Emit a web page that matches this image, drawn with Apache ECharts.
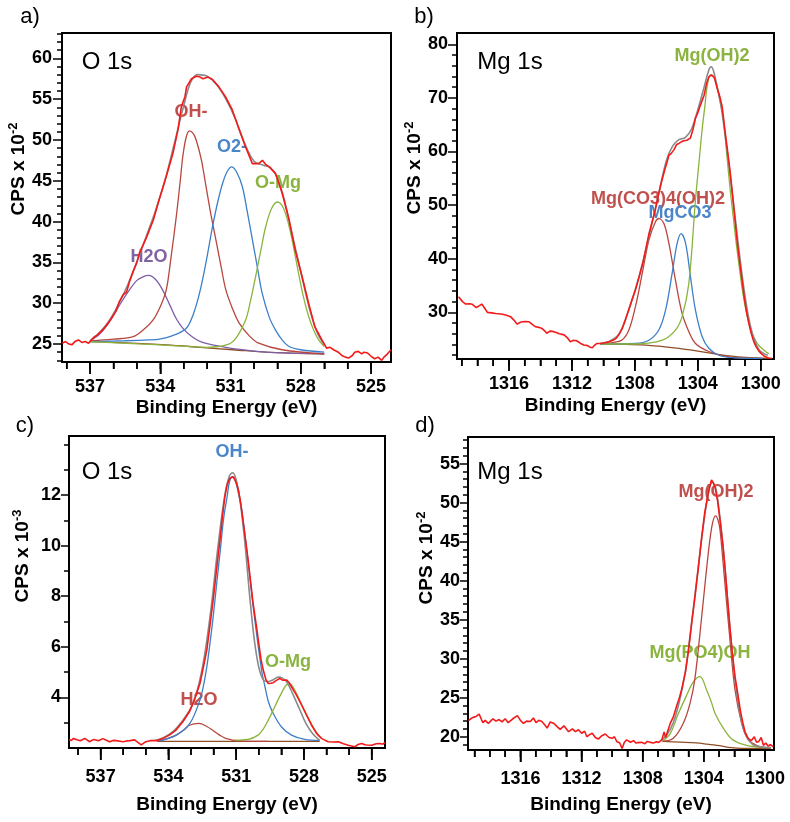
<!DOCTYPE html>
<html><head><meta charset="utf-8">
<script src="https://cdn.jsdelivr.net/npm/echarts@6/dist/echarts.min.js"></script>
<style>html,body{margin:0;padding:0;background:#fff}#c{width:790px;height:822px}</style>
</head><body><div id="c"></div>
<script>
// ---------- Panel a: O 1s ----------
const aRaw=[[538.19,25.1],[538.05,25.3],[537.9,25.0],[537.78,24.9],[537.65,25.3],[537.5,25.5],[537.35,25.2],[537.21,25.3],[537.07,25.1],[536.95,25.5],[536.85,25.8],[536.7,26.1],[536.5,26.6],[536.3,27.3],[536.1,28.1],[535.9,29.0],[535.75,30.2],[535.6,31.0],[535.44,31.4],[535.3,32.8],[535.16,33.9],[535.0,35.0],[534.9,36.1],[534.6,38.0],[534.3,40.2],[534.05,42.7],[533.75,45.5],[533.46,48.4],[533.25,51.2],[533.1,54.1],[532.95,55.3],[532.88,56.5],[532.67,57.5],[532.46,57.8],[532.3,57.7],[532.18,57.5],[531.96,57.7],[531.77,57.4],[531.5,56.5],[531.22,55.3],[530.93,53.7],[530.65,51.4],[530.37,49.2],[530.07,47.1],[529.8,47.1],[529.64,47.5],[529.5,47.0],[529.35,46.7],[529.08,45.9],[528.8,43.5],[528.5,40.2],[528.24,36.5],[527.95,33.3],[527.67,30.0],[527.4,27.1],[527.1,25.5],[526.9,24.5],[526.75,24.6],[526.6,24.3],[526.4,24.0],[526.25,23.6],[526.1,23.4],[525.95,23.3],[525.8,23.6],[525.7,24.0],[525.55,24.1],[525.4,23.8],[525.3,24.0],[525.15,23.9],[525.0,23.5],[524.85,23.2],[524.7,23.4],[524.55,23.0],[524.45,23.4],[524.3,23.8],[524.15,24.3]];
const aEnv=[[537.0,25.4],[536.6,26.4],[536.2,27.8],[535.8,29.8],[535.4,32.2],[535.0,35.1],[534.6,38.2],[534.2,41.4],[533.8,45.1],[533.4,49.6],[533.0,54.2],[532.7,57.1],[532.4,58.0],[532.0,57.8],[531.6,56.8],[531.2,55.0],[530.8,52.6],[530.4,49.6],[530.0,47.4],[529.6,46.9],[529.3,46.6],[529.0,45.3],[528.7,42.6],[528.4,38.8],[528.0,33.8],[527.6,29.0],[527.3,26.4],[527.0,24.9]];
const aBg=[[537.0,25.3],[535.5,25.15],[533.75,24.9],[532.3,24.6],[530.9,24.3],[529.1,23.95],[527.0,23.8]];
const aH2O=[[537.0,25.4],[536.6,26.2],[536.2,27.6],[535.8,29.5],[535.4,31.3],[535.0,32.8],[534.7,33.3],[534.5,33.4],[534.2,32.9],[533.9,31.6],[533.6,29.8],[533.3,28.0],[533.0,26.8],[532.6,25.8],[532.2,25.2],[531.6,24.8],[530.8,24.4],[529.5,24.0],[528.0,23.85],[527.0,23.8]];
const aOH=[[537.0,25.4],[536.0,25.6],[535.16,25.9],[534.7,26.8],[534.3,28.0],[534.0,29.6],[533.75,31.6],[533.55,35.5],[533.32,40.6],[533.15,45.0],[533.04,48.0],[532.9,50.3],[532.76,51.1],[532.6,50.8],[532.47,50.0],[532.25,47.6],[532.05,44.3],[531.85,41.0],[531.63,37.8],[531.4,34.4],[531.2,31.6],[530.9,29.2],[530.64,27.6],[530.2,26.0],[529.8,25.1],[528.8,24.3],[527.0,23.8]];
const aO2=[[537.0,25.3],[535.5,25.4],[534.5,25.5],[534.03,25.6],[533.5,26.0],[532.9,26.9],[532.6,28.6],[532.33,31.2],[532.05,35.0],[531.77,39.4],[531.55,42.4],[531.34,44.7],[531.15,46.1],[530.96,46.7],[530.75,46.1],[530.5,44.3],[530.3,41.4],[530.07,37.8],[529.85,34.3],[529.65,31.2],[529.35,28.3],[529.08,26.7],[528.8,25.5],[528.5,24.7],[528.0,24.3],[527.0,24.0]];
const aOMg=[[537.0,25.3],[534.0,24.9],[532.0,24.6],[531.5,24.7],[531.0,25.1],[530.7,26.0],[530.35,28.0],[530.15,30.3],[529.93,33.3],[529.7,36.6],[529.5,39.4],[529.25,41.6],[529.0,42.4],[528.75,41.7],[528.5,39.4],[528.3,36.7],[528.1,33.7],[527.9,30.9],[527.67,28.4],[527.45,26.7],[527.24,25.5],[527.0,24.7]];
// ---------- Panel b: Mg 1s ----------
const bRaw=[[1319.2,32.9],[1318.95,32.0],[1318.75,31.55],[1318.5,31.6],[1318.33,31.5],[1318.07,30.9],[1317.9,31.2],[1317.73,31.55],[1317.55,30.8],[1317.37,30.0],[1317.1,29.9],[1316.84,29.8],[1316.5,29.7],[1316.2,29.5],[1315.9,29.2],[1315.7,28.6],[1315.47,27.8],[1315.3,28.1],[1315.16,28.25],[1314.95,28.3],[1314.74,28.25],[1314.5,27.7],[1314.3,27.3],[1314.1,27.2],[1313.9,27.0],[1313.75,26.6],[1313.6,26.1],[1313.4,26.5],[1313.15,26.4],[1312.95,26.2],[1312.8,26.0],[1312.5,25.8],[1312.3,25.3],[1312.1,24.5],[1311.9,24.8],[1311.7,24.7],[1311.45,24.2],[1311.24,23.9],[1311.0,23.8],[1310.85,23.5],[1310.7,23.4],[1310.55,23.9],[1310.4,24.2],[1310.2,24.2],[1310.0,24.3],[1309.65,24.5],[1309.4,24.8],[1309.2,25.1],[1309.0,25.9],[1308.8,27.0],[1308.6,28.6],[1308.4,30.4],[1308.2,32.2],[1307.96,34.2],[1307.7,36.9],[1307.5,39.1],[1307.3,41.9],[1307.1,44.7],[1306.9,46.9],[1306.7,49.1],[1306.5,51.9],[1306.3,54.4],[1306.1,56.6],[1305.95,58.1],[1305.84,59.3],[1305.7,59.6],[1305.52,60.3],[1305.35,61.3],[1305.2,61.5],[1305.05,61.8],[1304.89,62.0],[1304.7,62.1],[1304.47,62.5],[1304.3,64.2],[1304.15,66.2],[1303.98,67.4],[1303.83,68.7],[1303.6,70.5],[1303.45,72.6],[1303.3,73.9],[1303.13,74.3],[1302.95,73.8],[1302.77,71.8],[1302.6,70.2],[1302.45,68.3],[1302.3,64.5],[1302.13,60.6],[1301.95,56.3],[1301.8,52.0],[1301.65,47.6],[1301.5,43.2],[1301.35,39.6],[1301.2,36.2],[1301.05,32.8],[1300.9,30.0],[1300.75,27.8],[1300.6,26.0],[1300.45,24.6],[1300.3,23.6],[1300.15,22.9],[1300.0,22.4],[1299.85,22.0],[1299.7,21.7],[1299.5,21.5],[1299.28,21.4]];
const bEnv=[[1310.2,24.2],[1309.6,24.6],[1309.0,26.0],[1308.5,29.5],[1308.0,34.0],[1307.5,39.3],[1307.0,45.5],[1306.5,52.0],[1306.0,58.3],[1305.6,61.0],[1305.2,62.2],[1304.8,62.6],[1304.4,64.2],[1304.0,67.8],[1303.6,72.0],[1303.3,75.2],[1303.15,75.8],[1303.0,75.0],[1302.8,72.4],[1302.5,68.0],[1302.2,61.5],[1301.9,54.5],[1301.6,47.0],[1301.3,39.5],[1301.0,33.0],[1300.7,28.0],[1300.4,24.8],[1300.1,23.0],[1299.8,22.3],[1299.55,22.0]];
const bBg=[[1310.2,24.1],[1308.8,24.05],[1307.3,23.9],[1306.2,23.6],[1305.2,23.3],[1304.1,22.8],[1303.1,22.35],[1302.0,21.9],[1301.0,21.6],[1299.5,21.4]];
const bMgCarbHyd=[[1310.18,24.1],[1309.5,24.3],[1308.8,24.9],[1308.38,26.7],[1307.96,31.1],[1307.53,37.3],[1307.11,43.5],[1306.69,46.9],[1306.48,47.5],[1306.16,46.6],[1305.84,42.9],[1305.42,36.0],[1305.0,29.8],[1304.57,26.4],[1304.15,24.2],[1303.3,22.7],[1302.03,21.7],[1299.92,21.4]];
const bMgCO3=[[1310.18,24.1],[1307.96,24.2],[1307.11,24.8],[1306.48,26.7],[1306.05,30.4],[1305.63,37.3],[1305.31,42.9],[1305.06,44.7],[1304.78,42.9],[1304.47,36.7],[1304.15,30.4],[1303.73,25.5],[1303.3,23.3],[1302.67,22.0],[1301.6,21.5],[1299.9,21.4]];
const bMgOH2=[[1310.18,24.1],[1307.96,24.1],[1306.26,24.8],[1305.42,26.7],[1305.0,29.2],[1304.57,35.4],[1304.15,51.0],[1303.94,57.5],[1303.73,64.0],[1303.55,68.5],[1303.41,72.1],[1303.2,74.3],[1302.97,73.8],[1302.77,72.0],[1302.55,69.0],[1302.35,65.5],[1302.13,58.5],[1301.93,52.5],[1301.7,46.5],[1301.5,41.5],[1301.08,32.5],[1300.66,27.0],[1300.23,24.2],[1299.7,22.7],[1299.49,22.3]];
// ---------- Panel c: O 1s ----------
const cRaw=[[538.4,2.34],[538.3,2.3],[538.2,2.38],[538.05,2.33],[537.9,2.29],[537.7,2.38],[537.5,2.25],[537.3,2.34],[537.1,2.29],[536.9,2.37],[536.75,2.31],[536.6,2.25],[536.45,2.3],[536.3,2.29],[536.15,2.27],[536.0,2.25],[535.85,2.28],[535.7,2.29],[535.5,2.32],[535.35,2.22],[535.2,2.12],[535.0,2.25],[534.8,2.29],[534.55,2.29],[534.4,2.33],[534.25,2.38],[533.96,2.51],[533.66,2.71],[533.36,3.04],[533.07,3.43],[532.85,3.89],[532.6,4.56],[532.45,5.2],[532.3,5.87],[532.15,6.9],[532.0,7.98],[531.85,9.2],[531.7,10.35],[531.6,11.2],[531.5,11.93],[531.4,12.4],[531.28,12.66],[531.13,12.72],[531.0,12.5],[530.9,12.2],[530.8,11.7],[530.7,11.0],[530.58,10.2],[530.47,9.43],[530.35,8.5],[530.25,7.72],[530.1,6.8],[530.0,6.14],[529.9,5.5],[529.8,5.08],[529.68,4.7],[529.58,4.55],[529.45,4.56],[529.36,4.58],[529.2,4.68],[529.07,4.75],[528.95,4.68],[528.77,4.69],[528.65,4.58],[528.55,4.42],[528.33,4.09],[528.1,3.7],[527.88,3.3],[527.66,2.9],[527.44,2.58],[527.22,2.38],[527.05,2.3],[526.92,2.25],[526.7,2.24],[526.48,2.25],[526.25,2.17],[526.04,2.11],[525.9,2.08],[525.74,2.05],[525.6,2.14],[525.44,2.18],[525.3,2.13],[525.2,2.12],[525.0,2.11],[524.9,2.14],[524.8,2.17],[524.63,2.18],[524.5,2.15],[524.41,2.22]];
const cEnv=[[534.6,2.3],[534.2,2.42],[533.8,2.65],[533.4,3.05],[533.0,3.6],[532.7,4.35],[532.4,5.65],[532.1,7.6],[531.8,10.0],[531.5,12.0],[531.3,12.75],[531.15,12.88],[531.0,12.6],[530.8,11.6],[530.6,10.0],[530.4,8.0],[530.2,6.3],[530.0,5.2],[529.8,4.7],[529.6,4.62],[529.35,4.7],[529.15,4.8],[528.95,4.76],[528.75,4.6],[528.5,4.15],[528.2,3.55],[527.9,2.95],[527.6,2.55],[527.3,2.3]];
const cBg=[[534.5,2.26],[531.0,2.26],[527.3,2.26]];
const cH2O=[[534.5,2.26],[533.96,2.4],[533.66,2.51],[533.3,2.72],[533.07,2.9],[532.64,2.97],[532.3,2.85],[532.05,2.71],[531.75,2.52],[531.46,2.38],[530.9,2.28],[529.6,2.26]];
const cOH=[[534.4,2.28],[533.65,2.51],[533.05,2.97],[532.6,3.9],[532.45,4.45],[532.3,5.2],[532.15,6.2],[532.0,7.32],[531.85,8.6],[531.7,9.83],[531.55,11.1],[531.4,11.93],[531.3,12.5],[531.18,12.72],[531.05,12.6],[530.9,12.07],[530.75,11.4],[530.6,10.35],[530.45,9.2],[530.3,7.98],[530.15,6.9],[530.0,5.87],[529.85,4.95],[529.73,4.45],[529.58,3.85],[529.36,3.37],[529.0,2.84],[528.55,2.51],[527.96,2.34],[527.3,2.3]];
const cOMg=[[531.06,2.31],[530.47,2.34],[530.03,2.51],[529.8,2.75],[529.58,3.1],[529.29,3.63],[529.0,4.16],[528.7,4.53],[528.55,4.49],[528.33,4.16],[528.1,3.7],[527.81,3.17],[527.51,2.71],[527.3,2.44]];
// ---------- Panel d: Mg 1s ----------
const dRaw=[[1319.4,22.05],[1319.25,22.3],[1319.1,22.48],[1318.9,22.6],[1318.7,22.9],[1318.55,22.2],[1318.45,21.8],[1318.3,22.1],[1318.1,21.7],[1317.95,22.0],[1317.8,22.3],[1317.6,22.0],[1317.4,22.2],[1317.2,21.9],[1317.0,22.3],[1316.8,21.8],[1316.5,22.3],[1316.2,22.7],[1316.0,22.1],[1315.8,21.7],[1315.6,22.0],[1315.35,21.95],[1315.15,22.4],[1314.98,21.8],[1314.8,22.1],[1314.6,21.95],[1314.4,21.5],[1314.25,21.1],[1314.05,21.9],[1313.8,21.7],[1313.6,21.3],[1313.4,20.95],[1313.15,21.4],[1312.85,20.65],[1312.6,21.0],[1312.4,20.65],[1312.2,20.9],[1312.0,20.45],[1311.8,20.7],[1311.65,20.0],[1311.45,20.3],[1311.3,20.45],[1311.1,19.9],[1310.9,19.7],[1310.7,20.1],[1310.45,20.35],[1310.2,19.9],[1310.0,19.8],[1309.85,20.0],[1309.7,19.4],[1309.5,19.2],[1309.35,18.5],[1309.2,19.3],[1309.05,19.6],[1308.8,19.3],[1308.6,19.5],[1308.45,19.2],[1308.3,19.25],[1308.08,19.28],[1307.85,19.1],[1307.7,19.4],[1307.5,19.28],[1307.3,19.2],[1307.1,19.35],[1306.96,19.28],[1306.75,19.6],[1306.6,20.6],[1306.5,19.9],[1306.4,20.1],[1306.2,21.7],[1306.0,22.5],[1305.8,23.8],[1305.6,25.0],[1305.46,26.0],[1305.2,28.3],[1305.0,31.1],[1304.8,34.5],[1304.58,37.9],[1304.35,41.8],[1304.14,45.6],[1303.95,48.6],[1303.8,50.3],[1303.65,51.8],[1303.5,52.9],[1303.4,52.6],[1303.27,52.0],[1303.1,50.2],[1302.94,47.7],[1302.75,44.5],[1302.6,41.3],[1302.45,37.6],[1302.3,34.1],[1302.13,30.6],[1301.96,27.7],[1301.77,25.4],[1301.6,23.2],[1301.45,21.8],[1301.3,20.6],[1301.1,19.8],[1300.9,19.5],[1300.7,20.0],[1300.55,19.3],[1300.4,19.4],[1300.25,19.9],[1300.1,18.9],[1299.95,19.2],[1299.8,18.8],[1299.65,19.0],[1299.45,18.7]];
const dEnv=[[1306.8,19.5],[1306.4,20.3],[1306.0,21.8],[1305.6,24.5],[1305.2,28.5],[1304.8,34.6],[1304.4,41.2],[1304.0,47.5],[1303.7,51.2],[1303.45,52.6],[1303.25,52.1],[1303.0,49.0],[1302.7,43.5],[1302.4,36.5],[1302.1,29.8],[1301.8,24.9],[1301.5,21.6],[1301.2,20.0],[1300.8,19.0],[1300.3,18.7],[1299.6,18.6]];
const dBg=[[1306.7,19.4],[1305.5,19.3],[1304.5,19.2],[1303.8,19.05],[1303.0,18.85],[1302.2,18.6],[1301.5,18.5],[1299.6,18.5]];
const dMgOH2=[[1306.7,19.4],[1306.0,19.8],[1305.35,21.7],[1304.9,24.3],[1304.58,27.5],[1304.14,35.4],[1303.71,43.5],[1303.45,47.2],[1303.23,48.3],[1303.08,47.8],[1302.94,46.5],[1302.62,39.6],[1302.29,32.4],[1301.96,26.0],[1301.52,21.7],[1301.09,19.6],[1300.43,18.8],[1299.99,18.6]];
const dMgPO4OH=[[1306.7,19.45],[1306.2,20.4],[1305.68,22.9],[1305.13,25.3],[1304.7,27.0],[1304.25,27.7],[1303.82,26.0],[1303.5,24.4],[1303.27,23.0],[1302.73,21.1],[1302.1,19.6],[1301.2,18.9],[1300.0,18.6]];
// ---------- Tick values ----------
const aXLabels=[525,528,531,534,537], aXMinor=[525,526,527,528,529,530,531,532,533,534,535,536,537,538];
const aYLabels=[25,30,35,40,45,50,55,60], aYMinor=[23,24,25,26,27,28,29,30,31,32,33,34,35,36,37,38,39,40,41,42,43,44,45,46,47,48,49,50,51,52,53,54,55,56,57,58,59,60,61,62,63];
const bXLabels=[1300,1304,1308,1312,1316], bXMinor=[1300,1301,1302,1303,1304,1305,1306,1307,1308,1309,1310,1311,1312,1313,1314,1315,1316,1317,1318,1319];
const bYLabels=[30,40,50,60,70,80], bYMinor=[22,24,26,28,30,32,34,36,38,40,42,44,46,48,50,52,54,56,58,60,62,64,66,68,70,72,74,76,78,80];
const cXLabels=[525,528,531,534,537], cXMinor=[525,526,527,528,529,530,531,532,533,534,535,536,537,538];
const cYLabels=[4,6,8,10,12], cYMinor=[3,4,5,6,7,8,9,10,11,12,13,14];
const dXLabels=[1300,1304,1308,1312,1316], dXMinor=[1300,1301,1302,1303,1304,1305,1306,1307,1308,1309,1310,1311,1312,1313,1314,1315,1316,1317,1318,1319];
const dYLabels=[20,25,30,35,40,45,50,55], dYMinor=[19,20,21,22,23,24,25,26,27,28,29,30,31,32,33,34,35,36,37,38,39,40,41,42,43,44,45,46,47,48,49,50,51,52,53,54,55,56,57,58];

const FONT='"Liberation Sans", Arial, Helvetica, sans-serif';
const C={raw:'#f21a1a',env:'#8a8a8a',dred:'#b8463f',blue:'#3d7fc8',green:'#8ab43c',purple:'#7d5ea8',brown:'#8f4f24'};
const L={dred:'#c0504d',blue:'#4a86c8',green:'#8ab43f',purple:'#8064a2'};

const panels=[
 {g:[62,33,329,329],xr:[524.15,538.2],yr:[22.8,63.1],xl:aXLabels,xm:aXMinor,yl:aYLabels,ym:aYMinor,xMar:16,xGap:36,yMar:10,yGap:30,yPad:57,exp:'-2',yMaj:9,
  s:[[aBg,C.brown],[aH2O,C.purple],[aOH,C.dred],[aO2,C.blue],[aOMg,C.green],[aEnv,C.env,'env'],[aRaw,C.raw,'raw']]},
 {g:[457,33,317,326],xr:[1299.16,1319.3],yr:[21.3,82.1],xl:bXLabels,xm:bXMinor,yl:bYLabels,ym:bYMinor,xMar:16,xGap:37,yMar:9,yGap:25,yPad:56,exp:'-2',yMaj:9,
  s:[[bBg,C.brown],[bMgCarbHyd,C.dred],[bMgCO3,C.blue],[bMgOH2,C.green],[bEnv,C.env,'env'],[bRaw,C.raw,'raw']]},
 {g:[69,436,316,312],xr:[524.41,538.4],yr:[2.0,14.33],xl:cXLabels,xm:cXMinor,yl:cYLabels,ym:cYMinor,xMar:20,xGap:47,yMar:8,yGap:34,yPad:72,exp:'-3',yMaj:8,
  s:[[cBg,C.brown],[cH2O,C.dred],[cOH,C.blue],[cOMg,C.green],[cEnv,C.env,'env'],[cRaw,C.raw,'raw']]},
 {g:[468,437,306,313],xr:[1299.41,1319.43],yr:[18.3,58.4],xl:dXLabels,xm:dXMinor,yl:dYLabels,ym:dYMinor,xMar:20,xGap:45,yMar:8,yGap:29,yPad:71,exp:'-2',yMaj:8,
  s:[[dBg,C.brown],[dMgPO4OH,C.green],[dMgOH2,C.dred],[dEnv,C.env,'env'],[dRaw,C.raw,'raw']]}
];

// Binding-energy axes run high -> low: the x scale is fed -eV and labels show eV.
const neg=v=>-v;
const grid=[],xAxis=[],yAxis=[],series=[];
const tickStyle={color:'#000',width:1.5};
const mkLine=()=>({show:true,onZero:false,lineStyle:{color:'#000',width:2}});
const plain=v=>String(v);
const plainNeg=v=>String(Math.round(-v*100)/100);
panels.forEach((p)=>{
  grid.push({left:p.g[0],top:p.g[1],width:p.g[2],height:p.g[3],show:true,borderColor:'#000',borderWidth:2,backgroundColor:'transparent'});
});
panels.forEach((p)=>{
  grid.push({left:p.g[0],top:p.g[1],width:p.g[2],height:p.g[3],show:false});
});
panels.forEach((p,i)=>{
  xAxis.push({gridIndex:i,type:'value',min:-p.xr[1],max:-p.xr[0],position:'bottom',splitLine:{show:false},axisLine:mkLine(),
    name:'Binding Energy (eV)',nameLocation:'middle',nameGap:p.xGap,
    nameTextStyle:{fontSize:19,fontWeight:'bold',fontFamily:FONT,color:'#000'},
    axisTick:{show:true,inside:false,length:12,lineStyle:tickStyle,customValues:p.xl.map(neg)},
    axisLabel:{show:true,margin:p.xMar,fontSize:18,fontWeight:'bold',fontFamily:FONT,color:'#000',customValues:p.xl.map(neg),formatter:plainNeg}});
  yAxis.push({gridIndex:i,type:'value',min:p.yr[0],max:p.yr[1],position:'left',splitLine:{show:false},axisLine:mkLine(),
    name:'{m|CPS x 10}{s|'+p.exp+'}',nameLocation:'middle',nameGap:p.yGap,
    nameTextStyle:{padding:[0,0,0,p.yPad],rich:{
      m:{fontSize:19,fontWeight:'bold',fontFamily:FONT,color:'#000',lineHeight:24},
      s:{fontSize:13,fontWeight:'bold',fontFamily:FONT,color:'#000',lineHeight:14,verticalAlign:'top'}}},
    axisTick:{show:true,inside:false,length:p.yMaj,lineStyle:tickStyle,customValues:p.yl},
    axisLabel:{show:true,margin:p.yMar,fontSize:18,fontWeight:'bold',fontFamily:FONT,color:'#000',customValues:p.yl,formatter:plain}});
  p.s.forEach(([data,color,kind],k)=>{
    series.push({type:'line',xAxisIndex:i,yAxisIndex:i,data:data.map(([x,y])=>[-x,y]),showSymbol:false,symbol:'none',
      smooth:kind==='raw'?false:0.35,z:2+k,silent:true,
      lineStyle:{color:color,width:kind==='raw'?1.6:(kind==='env'?1.6:1.3)}});
  });
});
panels.forEach((p,i)=>{
  xAxis.push({gridIndex:4+i,type:'value',min:-p.xr[1],max:-p.xr[0],position:'bottom',splitLine:{show:false},axisLine:mkLine(),
    axisTick:{show:true,inside:false,length:7,lineStyle:tickStyle,customValues:p.xm.map(neg)},axisLabel:{show:false}});
  yAxis.push({gridIndex:4+i,type:'value',min:p.yr[0],max:p.yr[1],position:'left',splitLine:{show:false},axisLine:mkLine(),
    axisTick:{show:true,inside:false,length:5,lineStyle:tickStyle,customValues:p.ym},axisLabel:{show:false}});
  series.push({type:'line',xAxisIndex:4+i,yAxisIndex:4+i,data:[],silent:true,showSymbol:false});
});

function txt(x,y,text,font,color){
  return {type:'text',x:x,y:y,silent:true,style:{text:text,font:font,fill:color,textAlign:'center',textVerticalAlign:'middle',align:'center',verticalAlign:'middle'}};
}
const bold18='bold 18px '+FONT, norm24='24px '+FONT, norm22='22px '+FONT;
const graphic=[
  txt(30,17,'a)',norm22,'#000'), txt(424,17,'b)',norm22,'#000'),
  txt(25,426,'c)',norm22,'#000'), txt(425,426,'d)',norm22,'#000'),
  txt(107,62,'O 1s',norm24,'#000'), txt(510,62,'Mg 1s',norm24,'#000'),
  txt(107,472,'O 1s',norm24,'#000'), txt(510,472,'Mg 1s',norm24,'#000'),
  txt(191,112,'OH-',bold18,L.dred), txt(232,147,'O2-',bold18,L.blue),
  txt(278,183,'O-Mg',bold18,L.green), txt(149,257,'H2O',bold18,L.purple),
  txt(712,56,'Mg(OH)2',bold18,L.green), txt(658,199,'Mg(CO3)4(OH)2',bold18,L.dred),
  txt(680,213,'MgCO3',bold18,L.blue),
  txt(232,452,'OH-',bold18,L.blue), txt(199,700,'H2O',bold18,L.dred),
  txt(288,662,'O-Mg',bold18,L.green),
  txt(716,492,'Mg(OH)2',bold18,L.dred), txt(700,653,'Mg(PO4)OH',bold18,L.green)
];

const chart=echarts.init(document.getElementById('c'),null,{renderer:'canvas'});
chart.setOption({animation:false,backgroundColor:'#fff',grid,xAxis,yAxis,series,graphic});

// Bottom-axis tick marks, positioned through the library's own x scale (convertToPixel),
// drawn on a separate upper layer so nothing can cover them.
const tickMarks=[];
panels.forEach((p,i)=>{
  const yBase=p.g[1]+p.g[3];
  const add=(vals,len)=>vals.forEach(v=>{
    if(v<p.xr[0]||v>p.xr[1]) return;
    let x;
    try{
      const pt=chart.convertToPixel({gridIndex:i},[-v,p.yr[0]]);
      x=Array.isArray(pt)?pt[0]:pt;
    }catch(e){x=undefined;}
    if(typeof x!=='number'||!isFinite(x)){
      try{ x=chart.convertToPixel({xAxisIndex:i},-v); }catch(e){ x=undefined; }
    }
    if(typeof x!=='number'||!isFinite(x)) return;
    tickMarks.push({type:'line',silent:true,zlevel:1,z:100,shape:{x1:x,y1:yBase,x2:x,y2:yBase+len},style:{stroke:'#000',lineWidth:1.5}});
  });
  add(p.xm,7);
  add(p.xl,12);
});
chart.setOption({graphic:graphic.concat(tickMarks)});
</script></body></html>
